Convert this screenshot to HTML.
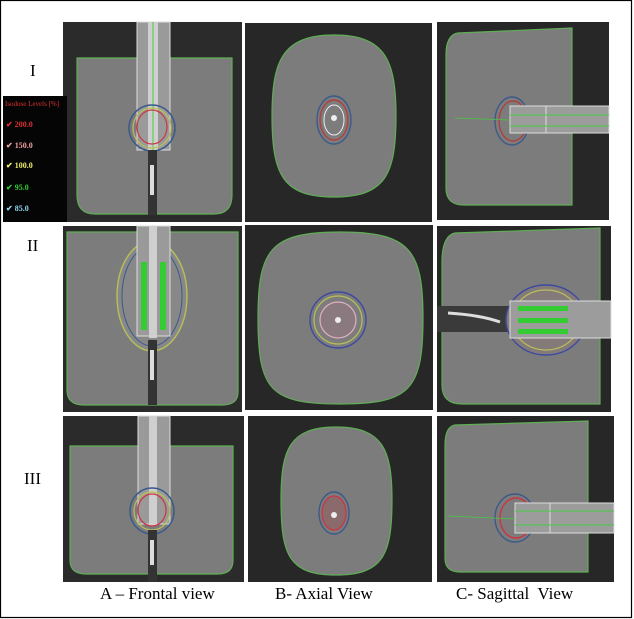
<!DOCTYPE html>
<html><head><meta charset="utf-8"><style>
html,body{margin:0;padding:0;background:#fff}
svg{display:block}
text{font-family:"Liberation Serif",serif}
</style></head><body>
<svg width="634" height="619" viewBox="0 0 634 619" xmlns="http://www.w3.org/2000/svg">
<rect x="0.5" y="0.5" width="631" height="617" fill="#fff" stroke="#000" stroke-width="1.2"/>

<!-- Row I A -->
<rect x="63" y="22" width="179" height="200" fill="#2b2b2b"/>
<path d="M77 58 H232 V195 Q232 214 214 214 H95 Q77 214 77 195 Z" fill="#7c7c7c" stroke="#5fae55" stroke-width="1.2"/>
<rect x="137" y="22" width="33" height="128" fill="#9a9a9a" stroke="#ddd"/>
<rect x="148" y="22" width="10" height="128" fill="#cfcfcf"/>
<line x1="153" y1="22" x2="153" y2="150" stroke="#4c4" stroke-width="1"/>
<ellipse cx="152" cy="128" rx="23" ry="23" fill="none" stroke="#3b5a8a" stroke-width="1.5"/>
<ellipse cx="152" cy="128" rx="19" ry="20" fill="none" stroke="#b8c05a" stroke-width="1.2"/>
<ellipse cx="152" cy="127" rx="15" ry="17" fill="none" stroke="#c34" stroke-width="1.2"/>
<rect x="148" y="150" width="9" height="65" fill="#333"/>
<rect x="150" y="165" width="4" height="30" fill="#ddd"/>
<!-- legend -->
<rect x="3" y="96" width="64" height="126" fill="#050505"/>
<g font-family="Liberation Sans,sans-serif" font-size="8" font-weight="bold">
<text x="5" y="106" fill="#e03030" font-size="7" font-weight="normal">Isodose Levels [%]</text>
<text x="6" y="127" fill="#e03030">✔ 200.0</text>
<text x="6" y="148" fill="#f0a0a0">✔ 150.0</text>
<text x="6" y="168" fill="#f0f070">✔ 100.0</text>
<text x="6" y="190" fill="#30d030">✔ 95.0</text>
<text x="6" y="211" fill="#90d8f0">✔ 85.0</text>
</g>

<!-- Row I B -->
<rect x="245" y="23" width="187" height="199" fill="#272727"/>
<path d="M334 35 C385 35 396 60 396 116 C396 175 385 197 334 197 C283 197 272 175 272 116 C272 60 283 35 334 35 Z" fill="#7c7c7c" stroke="#5fae55" stroke-width="1.2"/>
<ellipse cx="334" cy="120" rx="17" ry="24" fill="none" stroke="#3b5a8a" stroke-width="1.4"/>
<ellipse cx="334" cy="120" rx="14" ry="20" fill="none" stroke="#b04040" stroke-width="1.4"/>
<ellipse cx="334" cy="120" rx="10" ry="15" fill="none" stroke="#eee" stroke-width="1"/>
<circle cx="334" cy="118" r="3" fill="#eee"/>

<!-- Row I C -->
<rect x="437" y="22" width="172" height="198" fill="#272727"/>
<path d="M458 33 L572 28 V205 H464 Q446 205 446 188 V55 Q446 35 458 33 Z" fill="#7c7c7c" stroke="#5fae55" stroke-width="1.2"/>
<ellipse cx="512" cy="121" rx="17" ry="24" fill="none" stroke="#3b5a8a" stroke-width="1.4"/>
<ellipse cx="513" cy="121" rx="14" ry="20" fill="none" stroke="#b04040" stroke-width="1.4"/>
<rect x="510" y="106" width="99" height="27" fill="#9c9c9c" stroke="#ddd"/>
<line x1="546" y1="106" x2="546" y2="133" stroke="#ddd"/>
<line x1="510" y1="115" x2="609" y2="115" stroke="#4c4"/>
<line x1="510" y1="126" x2="609" y2="126" stroke="#4c4"/>
<line x1="455" y1="118" x2="510" y2="120" stroke="#4c4" stroke-width="0.8"/>

<!-- Row II A -->
<rect x="63" y="226" width="179" height="186" fill="#2b2b2b"/>
<path d="M67 232 H238 V392 Q238 405 222 405 H84 Q67 405 67 390 Z" fill="#7c7c7c" stroke="#5fae55" stroke-width="1.2"/>
<ellipse cx="152" cy="296" rx="35" ry="55" fill="#888" stroke="#b8c05a" stroke-width="1.4"/>
<ellipse cx="152" cy="296" rx="30" ry="50" fill="none" stroke="#3b5a8a" stroke-width="1"/>
<rect x="137" y="226" width="33" height="110" fill="#9a9a9a" stroke="#ddd"/>
<rect x="141" y="262" width="6" height="68" fill="#3c3"/>
<rect x="160" y="262" width="6" height="68" fill="#3c3"/>
<rect x="149" y="226" width="8" height="112" fill="#cfcfcf"/>
<rect x="148" y="340" width="9" height="65" fill="#333"/>
<rect x="150" y="350" width="4" height="30" fill="#ddd"/>

<!-- Row II B -->
<rect x="245" y="225" width="188" height="185" fill="#272727"/>
<path d="M340 232 C410 232 423 250 423 318 C423 390 410 404 340 404 C270 404 258 390 258 318 C258 250 270 232 340 232 Z" fill="#7c7c7c" stroke="#5fae55" stroke-width="1.2"/>
<circle cx="338" cy="320" r="28" fill="none" stroke="#3b4aa0" stroke-width="1.4"/>
<circle cx="338" cy="320" r="24" fill="none" stroke="#b8c05a" stroke-width="1.2"/>
<circle cx="338" cy="320" r="18" fill="#8a7a80" stroke="#e0b0c0" stroke-width="1.2"/>
<circle cx="338" cy="320" r="3" fill="#eee"/>

<!-- Row II C -->
<rect x="437" y="226" width="174" height="186" fill="#272727"/>
<path d="M455 233 L600 228 V404 H462 Q442 404 442 385 V262 Q442 236 455 233 Z" fill="#7c7c7c" stroke="#5fae55" stroke-width="1.2"/>
<rect x="437" y="306" width="80" height="26" fill="#3a3a3a"/>
<path d="M448 313 Q480 315 500 322" stroke="#ddd" stroke-width="3" fill="none"/>
<ellipse cx="546" cy="320" rx="40" ry="35" fill="#857a7a" stroke="#3b4aa0" stroke-width="1.4"/>
<ellipse cx="546" cy="320" rx="34" ry="30" fill="none" stroke="#b8c05a" stroke-width="1.2"/>
<rect x="510" y="301" width="101" height="37" fill="#9c9c9c" stroke="#ddd"/>
<rect x="518" y="306" width="50" height="5" fill="#3c3"/>
<rect x="518" y="318" width="50" height="5" fill="#3c3"/>
<rect x="518" y="329" width="50" height="5" fill="#3c3"/>

<!-- Row III A -->
<rect x="63" y="416" width="181" height="166" fill="#2b2b2b"/>
<path d="M70 446 H233 V560 Q233 574 218 574 H86 Q70 574 70 560 Z" fill="#7c7c7c" stroke="#5fae55" stroke-width="1.2"/>
<rect x="138" y="416" width="32" height="108" fill="#9a9a9a" stroke="#ddd"/>
<rect x="149" y="416" width="8" height="110" fill="#cfcfcf"/>
<ellipse cx="152" cy="511" rx="22" ry="23" fill="none" stroke="#3b5a8a" stroke-width="1.5"/>
<ellipse cx="152" cy="511" rx="18" ry="19" fill="none" stroke="#b8c05a" stroke-width="1.2"/>
<ellipse cx="152" cy="510" rx="14" ry="16" fill="none" stroke="#c34" stroke-width="1.2"/>
<rect x="148" y="530" width="9" height="52" fill="#333"/>
<rect x="150" y="540" width="4" height="25" fill="#ddd"/>

<!-- Row III B -->
<rect x="248" y="416" width="184" height="166" fill="#272727"/>
<path d="M336 427 C383 427 392 450 392 500 C392 555 383 575 336 575 C289 575 281 555 281 500 C281 450 289 427 336 427 Z" fill="#7c7c7c" stroke="#5fae55" stroke-width="1.2"/>
<ellipse cx="334" cy="513" rx="15" ry="21" fill="none" stroke="#3b5a8a" stroke-width="1.4"/>
<ellipse cx="334" cy="513" rx="12" ry="17" fill="#8a6a6a" stroke="#c34" stroke-width="1.2"/>
<circle cx="334" cy="515" r="3" fill="#eee"/>

<!-- Row III C -->
<rect x="437" y="416" width="177" height="166" fill="#272727"/>
<path d="M455 425 L588 421 V572 H460 Q445 572 445 558 V445 Q445 427 455 425 Z" fill="#7c7c7c" stroke="#5fae55" stroke-width="1.2"/>
<ellipse cx="515" cy="518" rx="20" ry="24" fill="none" stroke="#3b5a8a" stroke-width="1.4"/>
<ellipse cx="516" cy="518" rx="16" ry="20" fill="none" stroke="#c34" stroke-width="1.4"/>
<rect x="515" y="503" width="99" height="30" fill="#9c9c9c" stroke="#ddd"/>
<line x1="550" y1="503" x2="550" y2="533" stroke="#ddd"/>
<line x1="515" y1="511" x2="614" y2="511" stroke="#4c4"/>
<line x1="515" y1="525" x2="614" y2="525" stroke="#4c4"/>
<line x1="448" y1="516" x2="515" y2="519" stroke="#4c4" stroke-width="0.8"/>

<!-- labels -->
<g font-size="17" fill="#000">
<text x="30" y="76">I</text>
<text x="27" y="251">II</text>
<text x="24" y="484">III</text>
<text x="100" y="599">A – Frontal view</text>
<text x="275" y="599">B- Axial View</text>
<text x="456" y="599">C- Sagittal&#160; View</text>
</g>
</svg>
</body></html>
